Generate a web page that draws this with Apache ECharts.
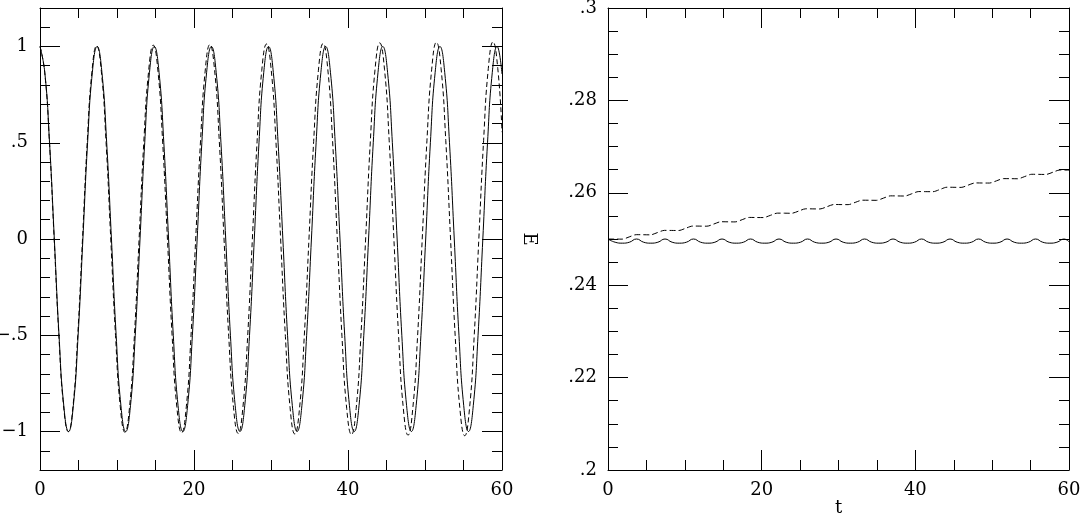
<!DOCTYPE html>
<html>
<head>
<meta charset="utf-8">
<script src="https://cdn.jsdelivr.net/npm/echarts@6/dist/echarts.min.js"></script>
<style>
html,body{margin:0;padding:0;background:#fff;}
#chart{width:1081px;height:516px;}
</style>
</head>
<body>
<div id="chart"></div>
<script>
// ---- Left panel: position x(t) ----
const solidT = [0,0.62,1.24,1.86,2.47,3.09,3.71,4.33,4.95,5.57,6.18,6.80,
7.42,8.04,8.66,9.28,9.89,10.51,11.13,11.75,12.37,12.99,13.60,14.22,
14.84,15.46,16.08,16.70,17.31,17.93,18.55,19.17,19.79,20.41,21.02,21.64,
22.26,22.88,23.50,24.12,24.73,25.35,25.97,26.59,27.21,27.83,28.44,29.06,
29.68,30.30,30.92,31.54,32.15,32.77,33.39,34.01,34.63,35.25,35.86,36.48,
37.10,37.72,38.34,38.96,39.57,40.19,40.81,41.43,42.05,42.67,43.28,43.90,
44.52,45.14,45.76,46.38,46.99,47.61,48.23,48.85,49.47,50.09,50.70,51.32,
51.94,52.56,53.18,53.80,54.41,55.03,55.65,56.27,56.89,57.51,58.12,58.74,
59.36,60];
const solidX = [1,0.866,0.5,0,-0.5,-0.866,-1,-0.866,-0.5,0,0.5,0.866,
1,0.866,0.5,0,-0.5,-0.866,-1,-0.866,-0.5,0,0.5,0.866,
1,0.866,0.5,0,-0.5,-0.866,-1,-0.866,-0.5,0,0.5,0.866,
1,0.866,0.5,0,-0.5,-0.866,-1,-0.866,-0.5,0,0.5,0.866,
1,0.866,0.5,0,-0.5,-0.866,-1,-0.866,-0.5,0,0.5,0.866,
1,0.866,0.5,0,-0.5,-0.866,-1,-0.866,-0.5,0,0.5,0.866,
1,0.866,0.5,0,-0.5,-0.866,-1,-0.866,-0.5,0,0.5,0.866,
1,0.866,0.5,0,-0.5,-0.866,-1,-0.866,-0.5,0,0.5,0.866,
1,0.857];
const dashedT = [0,0.61,1.23,1.84,2.45,3.06,3.68,4.29,4.90,5.52,6.13,6.74,
7.35,7.97,8.58,9.19,9.81,10.42,11.03,11.64,12.26,12.87,13.48,14.10,
14.71,15.32,15.93,16.55,17.16,17.77,18.39,19.00,19.61,20.22,20.84,21.45,
22.06,22.68,23.29,23.90,24.51,25.13,25.74,26.35,26.97,27.58,28.19,28.80,
29.42,30.03,30.64,31.25,31.87,32.48,33.09,33.71,34.32,34.93,35.54,36.16,
36.77,37.38,38.00,38.61,39.22,39.83,40.45,41.06,41.67,42.29,42.90,43.51,
44.12,44.74,45.35,45.96,46.58,47.19,47.80,48.41,49.03,49.64,50.25,50.87,
51.48,52.09,52.70,53.32,53.93,54.54,55.16,55.77,56.38,56.99,57.61,58.22,
58.83,59.45,60];
const dashedX = [1,0.867,0.501,0,-0.501,-0.867,-1.001,-0.867,-0.501,0,0.501,0.867,
1.004,0.869,0.502,0,-0.502,-0.869,-1.004,-0.869,-0.502,0,0.502,0.869,
1.007,0.872,0.504,0,-0.504,-0.872,-1.007,-0.872,-0.504,0,0.504,0.872,
1.010,0.875,0.505,0,-0.505,-0.875,-1.010,-0.875,-0.505,0,0.505,0.875,
1.013,0.877,0.507,0,-0.507,-0.877,-1.013,-0.877,-0.507,0,0.507,0.877,
1.016,0.880,0.508,0,-0.508,-0.880,-1.016,-0.880,-0.508,0,0.508,0.880,
1.019,0.882,0.510,0,-0.510,-0.882,-1.019,-0.882,-0.510,0,0.510,0.882,
1.022,0.885,0.511,0,-0.511,-0.885,-1.022,-0.885,-0.511,0,0.511,0.885,
1.024,0.887,0.555];

// ---- Right panel: energy E(t) ----
const solidET = [0,0.93,1.86,2.78,3.71,4.64,5.57,6.49,7.42,8.35,9.28,10.20,
11.13,12.06,12.99,13.91,14.84,15.77,16.70,17.62,18.55,19.48,20.41,21.33,
22.26,23.19,24.12,25.04,25.97,26.90,27.83,28.75,29.68,30.61,31.54,32.46,
33.39,34.32,35.25,36.17,37.10,38.03,38.96,39.88,40.81,41.74,42.67,43.59,
44.52,45.45,46.38,47.30,48.23,49.16,50.09,51.01,51.94,52.87,53.80,54.72,
55.65,56.58,57.51,58.43,59.36,60];
const solidE = [0.2500,0.2493,0.2491,0.2493,0.2500,0.2493,0.2491,0.2493,
0.2500,0.2493,0.2491,0.2493,0.2500,0.2493,0.2491,0.2493,
0.2500,0.2493,0.2491,0.2493,0.2500,0.2493,0.2491,0.2493,
0.2500,0.2493,0.2491,0.2493,0.2500,0.2493,0.2491,0.2493,
0.2500,0.2493,0.2491,0.2493,0.2500,0.2493,0.2491,0.2493,
0.2500,0.2493,0.2491,0.2493,0.2500,0.2493,0.2491,0.2493,
0.2500,0.2493,0.2491,0.2493,0.2500,0.2493,0.2491,0.2493,
0.2500,0.2493,0.2491,0.2493,0.2500,0.2493,0.2491,0.2493,
0.2500,0.2494];
const dashedET = [0,0.92,1.84,2.76,3.68,4.60,5.52,6.43,7.35,8.27,9.19,10.11,
11.03,11.95,12.87,13.79,14.71,15.63,16.55,17.47,18.39,19.30,20.22,21.14,
22.06,22.98,23.90,24.82,25.74,26.66,27.58,28.50,29.42,30.33,31.25,32.17,
33.09,34.01,34.93,35.85,36.77,37.69,38.61,39.53,40.45,41.36,42.28,43.20,
44.12,45.04,45.96,46.88,47.80,48.72,49.64,50.56,51.48,52.40,53.32,54.24,
55.16,56.07,56.99,57.91,58.83,59.75,60];
const dashedE = [0.25000,0.24998,0.24997,0.25045,0.25094,0.25092,0.25090,0.25139,
0.25187,0.25185,0.25184,0.25232,0.25280,0.25279,0.25277,0.25325,
0.25374,0.25372,0.25370,0.25419,0.25467,0.25465,0.25464,0.25512,
0.25560,0.25559,0.25557,0.25605,0.25654,0.25652,0.25650,0.25699,
0.25747,0.25745,0.25744,0.25792,0.25840,0.25839,0.25837,0.25885,
0.25934,0.25932,0.25930,0.25979,0.26027,0.26025,0.26024,0.26072,
0.26121,0.26119,0.26117,0.26166,0.26214,0.26212,0.26211,0.26259,
0.26307,0.26306,0.26304,0.26352,0.26401,0.26399,0.26397,0.26446,
0.26494,0.26492,0.26488];

// ---- Tick labels ----
const xTicks = [0,20,40,60];
const xTickLabels = ['0','20','40','60'];
const leftYTicks = [-1,-0.5,0,0.5,1];
const leftYTickLabels = ['\u22121','\u2212.5','0','.5','1'];
const rightYTicks = [0.2,0.22,0.24,0.26,0.28,0.3];
const rightYTickLabels = ['.2','.22','.24','.26','.28','.3'];

function zip(a,b){return a.map((v,i)=>[v,b[i]]);}
function lookup(ticks,labels){
  return function(v){
    for(let i=0;i<ticks.length;i++){ if(Math.abs(ticks[i]-v)<1e-7) return labels[i]; }
    return '';
  };
}
const FONT = 'DejaVu Serif';
const black = '#000';
const labelStyle = {color:black,fontFamily:FONT,fontSize:18};
const nameStyle = {color:black,fontFamily:FONT,fontSize:18};

function xAxisDef(grid, pos, showLabel, name){
  return {
    type:'value', gridIndex:grid, position:pos, offset:0, min:0, max:60, interval:20,
    axisLine:{show:true,onZero:false,lineStyle:{color:black,width:1}},
    axisTick:{show:true,inside:true,length:20,lineStyle:{color:black,width:1}},
    minorTick:{show:true,splitNumber:4,length:10,lineStyle:{color:black,width:1}},
    splitLine:{show:false}, minorSplitLine:{show:false},
    axisLabel:Object.assign({show:showLabel,margin:11,formatter:lookup(xTicks,xTickLabels)},labelStyle),
    name:name||'', nameLocation:'middle', nameGap:29, nameMoveOverlap:false,
    nameTextStyle:nameStyle
  };
}
// left panel, 0.1-step ticks (short) and labels
function leftMinorY(pos){
  return {
    type:'value', gridIndex:0, position:pos, offset:0, min:-1.2, max:1.2, interval:0.1,
    axisLine:{show:true,onZero:false,lineStyle:{color:black,width:1}},
    axisTick:{show:true,inside:true,length:10,lineStyle:{color:black,width:1}},
    splitLine:{show:false},
    axisLabel:Object.assign({show:pos==='left',margin:12,customValues:leftYTicks,
      formatter:lookup(leftYTicks,leftYTickLabels)},labelStyle)
  };
}
// left panel, 0.5-step long ticks: on an overlay grid whose range -1.5..1.5 is aligned with the panel
function leftMajorY(pos){
  return {
    type:'value', gridIndex:2, position:pos, offset:0, min:-1.5, max:1.5, interval:0.5,
    axisLine:{show:false,onZero:false},
    axisTick:{show:true,inside:true,length:20,lineStyle:{color:black,width:1}},
    splitLine:{show:false},
    axisLabel:{show:false}
  };
}
function rightY(pos, showLabel){
  return {
    type:'value', gridIndex:1, position:pos, offset:0, min:0.2, max:0.3, interval:0.02,
    axisLine:{show:true,onZero:false,lineStyle:{color:black,width:1}},
    axisTick:{show:true,inside:true,length:20,lineStyle:{color:black,width:1}},
    minorTick:{show:true,splitNumber:4,length:10,lineStyle:{color:black,width:1}},
    splitLine:{show:false}, minorSplitLine:{show:false},
    axisLabel:Object.assign({show:showLabel,margin:11,formatter:lookup(rightYTicks,rightYTickLabels)},labelStyle),
    name: showLabel ? 'E' : '', nameLocation:'middle', nameRotate:-90, nameGap:70, nameMoveOverlap:false,
    nameTextStyle:nameStyle
  };
}

const PX_PER_UNIT = 462/2.4;
const chart = echarts.init(document.getElementById('chart'),null,{renderer:'canvas'});
chart.setOption({
  backgroundColor:'#fff',
  animation:false,
  grid:[
    {left:40,top:8,width:462,height:462,containLabel:false,outerBoundsMode:'none'},
    {left:608,top:8,width:461,height:462,containLabel:false,outerBoundsMode:'none'},
    {left:40,top:8-0.3*PX_PER_UNIT,width:462,height:3*PX_PER_UNIT,containLabel:false,outerBoundsMode:'none'}
  ],
  xAxis:[
    xAxisDef(0,'bottom',true),
    xAxisDef(0,'top',false),
    xAxisDef(1,'bottom',true,'t'),
    xAxisDef(1,'top',false),
    {type:'value',gridIndex:2,min:0,max:60,show:false}
  ],
  yAxis:[
    leftMinorY('left'),
    leftMinorY('right'),
    leftMajorY('left'),
    leftMajorY('right'),
    rightY('left',true),
    rightY('right',false)
  ],
  series:[
    {type:'line',xAxisIndex:0,yAxisIndex:0,data:zip(solidT,solidX),smooth:true,showSymbol:false,
      lineStyle:{color:black,width:1}},
    {type:'line',xAxisIndex:0,yAxisIndex:0,data:zip(dashedT,dashedX),smooth:true,showSymbol:false,
      lineStyle:{color:black,width:1,type:[5,3]}},
    {type:'line',xAxisIndex:2,yAxisIndex:4,data:zip(solidET,solidE),smooth:true,showSymbol:false,
      lineStyle:{color:black,width:1}},
    {type:'line',xAxisIndex:2,yAxisIndex:4,data:zip(dashedET,dashedE),smooth:0.3,showSymbol:false,
      lineStyle:{color:black,width:1,type:[6,3]}}
  ]
});
</script>
</body>
</html>
